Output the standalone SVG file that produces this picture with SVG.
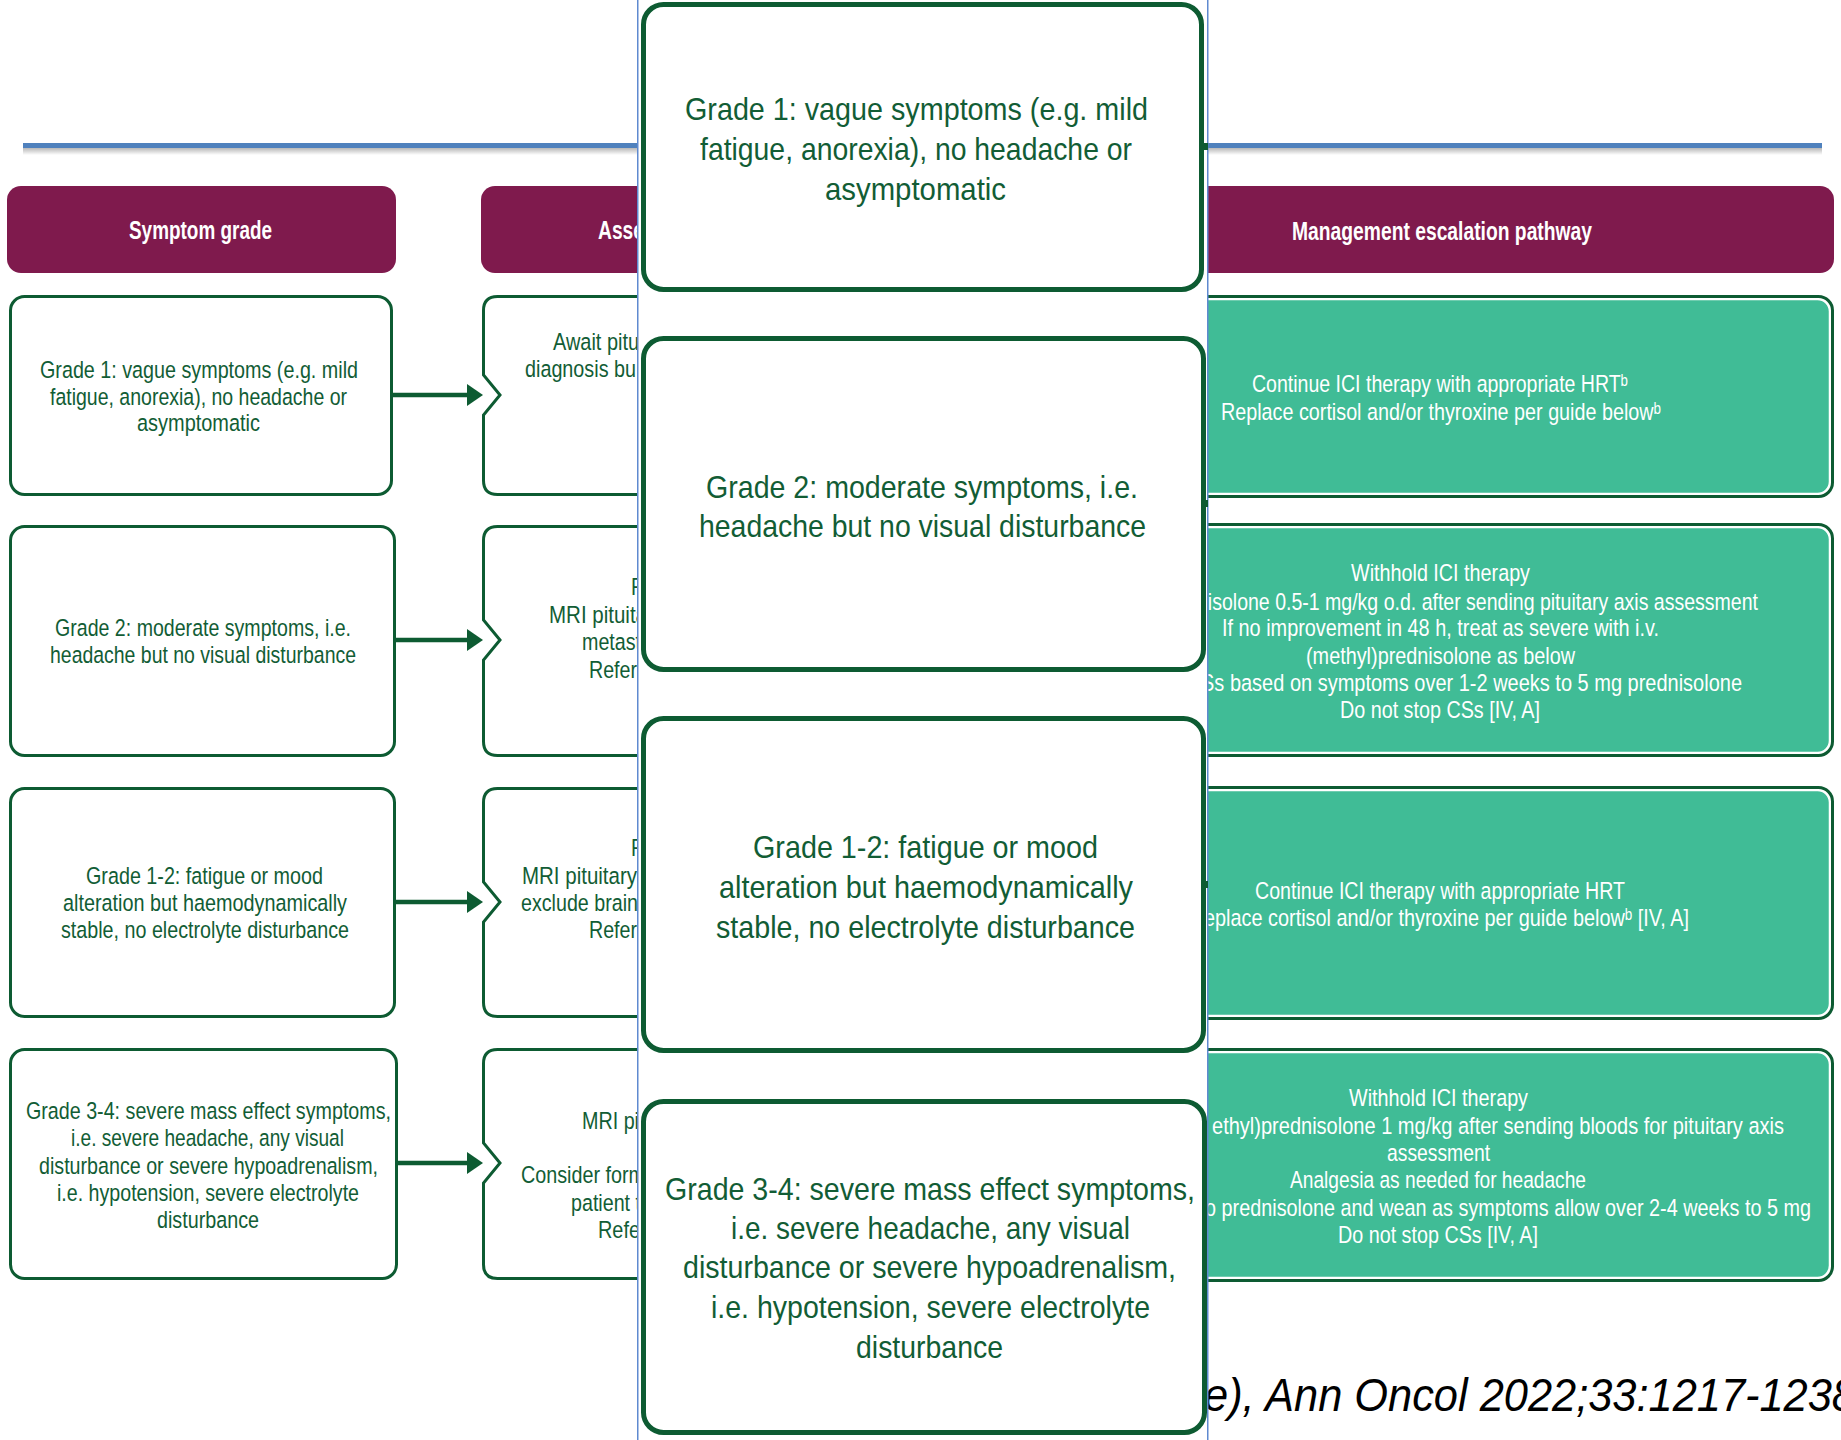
<svg xmlns="http://www.w3.org/2000/svg" width="1841" height="1440" viewBox="0 0 1841 1440">
  <defs>
    <linearGradient id="shade" x1="0" y1="0" x2="0" y2="1">
      <stop offset="0" stop-color="#000" stop-opacity="0.28"/>
      <stop offset="1" stop-color="#000" stop-opacity="0"/>
    </linearGradient>
    <marker id="ah" markerUnits="userSpaceOnUse" markerWidth="16" markerHeight="24" refX="5" refY="12" orient="auto">
      <path d="M0,1 L16,12 L0,23 Z" fill="#0d5b32"/>
    </marker>
    <style>
      .hdr { fill: #7f1a4d; }
      .htxt { font-family: "Liberation Sans", Arial, sans-serif; font-weight: bold; font-size: 26px; fill: #ffffff; }
      .box { fill: #ffffff; stroke: #0d5b32; stroke-width: 3; }
      .gout { fill: #ffffff; stroke: #0d5b32; stroke-width: 3; }
      .gin { fill: #40bc96; stroke: #ffffff; stroke-width: 1.5; }
      .t { font-family: "Liberation Sans", Arial, sans-serif; font-size: 24.5px; fill: #125d35; }
      .tw { font-family: "Liberation Sans", "DejaVu Sans", Arial, sans-serif; font-size: 24.5px; fill: #ffffff; }
      .pbox { fill: #ffffff; stroke: #0d5b32; stroke-width: 5; }
      .pt { font-family: "Liberation Sans", Arial, sans-serif; font-size: 31.5px; fill: #125d35; }
      .conn { fill: none; stroke: #0d5b32; stroke-width: 4.5; }
      .cite { font-family: "Liberation Sans", Arial, sans-serif; font-style: italic; font-size: 46px; fill: #000000; }
    </style>
  </defs>

  <rect width="1841" height="1440" fill="#ffffff"/>

  <!-- title rule -->
  <rect x="23" y="148" width="1799" height="7" fill="url(#shade)"/>
  <rect x="23" y="143" width="1799" height="5" fill="#4f81bd"/>

  <!-- column headers -->
  <g id="hdr-symptom">
    <rect class="hdr" x="7" y="186" width="389" height="87" rx="14"/>
    <text class="htxt" x="129" y="239" textLength="143" lengthAdjust="spacingAndGlyphs">Symptom grade</text>
  </g>
  <g id="hdr-assess">
    <rect class="hdr" x="481" y="186" width="489" height="87" rx="14"/>
    <text class="htxt" x="598" y="239" textLength="46" lengthAdjust="spacingAndGlyphs">Asse</text>
  </g>
  <g id="hdr-management">
    <rect class="hdr" x="1050" y="186" width="784" height="87" rx="14"/>
    <text class="htxt" x="1292" y="240" textLength="300" lengthAdjust="spacingAndGlyphs">Management escalation pathway</text>
  </g>

  <!-- symptom grade boxes -->
  <g id="grade1">
    <rect class="box" x="10.5" y="296.5" width="381" height="198" rx="14"/>
    <text class="t" x="40" y="378" textLength="318" lengthAdjust="spacingAndGlyphs">Grade 1: vague symptoms (e.g. mild</text>
    <text class="t" x="50" y="405" textLength="297" lengthAdjust="spacingAndGlyphs">fatigue, anorexia), no headache or</text>
    <text class="t" x="137" y="431" textLength="123" lengthAdjust="spacingAndGlyphs">asymptomatic</text>
  </g>
  <g id="grade2">
    <rect class="box" x="10.5" y="526.5" width="384" height="229" rx="14"/>
    <text class="t" x="55" y="636" textLength="296" lengthAdjust="spacingAndGlyphs">Grade 2: moderate symptoms, i.e.</text>
    <text class="t" x="50" y="663" textLength="306" lengthAdjust="spacingAndGlyphs">headache but no visual disturbance</text>
  </g>
  <g id="grade12">
    <rect class="box" x="10.5" y="788.5" width="384" height="228" rx="14"/>
    <text class="t" x="86" y="884" textLength="237" lengthAdjust="spacingAndGlyphs">Grade 1-2: fatigue or mood</text>
    <text class="t" x="63" y="911" textLength="284" lengthAdjust="spacingAndGlyphs">alteration but haemodynamically</text>
    <text class="t" x="61" y="938" textLength="288" lengthAdjust="spacingAndGlyphs">stable, no electrolyte disturbance</text>
  </g>
  <g id="grade34">
    <rect class="box" x="10.5" y="1049.5" width="386" height="229" rx="14"/>
    <text class="t" x="26" y="1119" textLength="365" lengthAdjust="spacingAndGlyphs">Grade 3-4: severe mass effect symptoms,</text>
    <text class="t" x="71" y="1146" textLength="273" lengthAdjust="spacingAndGlyphs">i.e. severe headache, any visual</text>
    <text class="t" x="39" y="1174" textLength="339" lengthAdjust="spacingAndGlyphs">disturbance or severe hypoadrenalism,</text>
    <text class="t" x="57" y="1201" textLength="302" lengthAdjust="spacingAndGlyphs">i.e. hypotension, severe electrolyte</text>
    <text class="t" x="157" y="1228" textLength="102" lengthAdjust="spacingAndGlyphs">disturbance</text>
  </g>

  <!-- assessment boxes (notched left edge) -->
  <g id="assess1">
    <path class="box" d="M760 296.5 H497.5 Q483.5 296.5 483.5 310.5 V375 L500 395 L483.5 415 V480.5 Q483.5 494.5 497.5 494.5 H760 Z"/>
    <text class="t" x="553" y="350" textLength="86" lengthAdjust="spacingAndGlyphs">Await pitu</text>
    <text class="t" x="525" y="377" textLength="111" lengthAdjust="spacingAndGlyphs">diagnosis bu</text>
  </g>
  <g id="assess2">
    <path class="box" d="M760 526.5 H497.5 Q483.5 526.5 483.5 540.5 V620 L500 640 L483.5 660 V741.5 Q483.5 755.5 497.5 755.5 H760 Z"/>
    <text class="t" x="631" y="595" textLength="12" lengthAdjust="spacingAndGlyphs">F</text>
    <text class="t" x="549" y="623" textLength="98" lengthAdjust="spacingAndGlyphs">MRI pituita</text>
    <text class="t" x="582" y="650" textLength="59" lengthAdjust="spacingAndGlyphs">metast</text>
    <text class="t" x="589" y="678" textLength="48" lengthAdjust="spacingAndGlyphs">Refer</text>
  </g>
  <g id="assess3">
    <path class="box" d="M760 788.5 H497.5 Q483.5 788.5 483.5 802.5 V882 L500 902 L483.5 922 V1002.5 Q483.5 1016.5 497.5 1016.5 H760 Z"/>
    <text class="t" x="631" y="856" textLength="12" lengthAdjust="spacingAndGlyphs">F</text>
    <text class="t" x="522" y="884" textLength="115" lengthAdjust="spacingAndGlyphs">MRI pituitary</text>
    <text class="t" x="521" y="911" textLength="117" lengthAdjust="spacingAndGlyphs">exclude brain</text>
    <text class="t" x="589" y="938" textLength="48" lengthAdjust="spacingAndGlyphs">Refer</text>
  </g>
  <g id="assess4">
    <path class="box" d="M760 1049.5 H497.5 Q483.5 1049.5 483.5 1063.5 V1143 L500 1163 L483.5 1183 V1264.5 Q483.5 1278.5 497.5 1278.5 H760 Z"/>
    <text class="t" x="582" y="1129" textLength="57" lengthAdjust="spacingAndGlyphs">MRI pi</text>
    <text class="t" x="521" y="1183" textLength="124" lengthAdjust="spacingAndGlyphs">Consider form</text>
    <text class="t" x="571" y="1211" textLength="70" lengthAdjust="spacingAndGlyphs">patient t</text>
    <text class="t" x="598" y="1238" textLength="42" lengthAdjust="spacingAndGlyphs">Refe</text>
  </g>

  <!-- management boxes -->
  <g id="manage1">
    <rect class="gout" x="1051.5" y="296.5" width="781" height="200" rx="14"/>
    <rect class="gin" x="1054.5" y="299.5" width="775" height="194" rx="12"/>
    <text class="tw" x="1252" y="392" textLength="376" lengthAdjust="spacingAndGlyphs">Continue ICI therapy with appropriate HRTᵇ</text>
    <text class="tw" x="1221" y="420" textLength="440" lengthAdjust="spacingAndGlyphs">Replace cortisol and/or thyroxine per guide belowᵇ</text>
  </g>
  <g id="manage2">
    <rect class="gout" x="1051.5" y="524.5" width="781" height="231" rx="14"/>
    <rect class="gin" x="1054.5" y="527.5" width="775" height="225" rx="12"/>
    <text class="tw" x="1351" y="581" textLength="179" lengthAdjust="spacingAndGlyphs">Withhold ICI therapy</text>
    <text class="tw" x="1197" y="610" textLength="561" lengthAdjust="spacingAndGlyphs">nisolone 0.5-1 mg/kg o.d. after sending pituitary axis assessment</text>
    <text class="tw" x="1222" y="636" textLength="437" lengthAdjust="spacingAndGlyphs">If no improvement in 48 h, treat as severe with i.v.</text>
    <text class="tw" x="1306" y="664" textLength="269" lengthAdjust="spacingAndGlyphs">(methyl)prednisolone as below</text>
    <text class="tw" x="1201" y="691" textLength="541" lengthAdjust="spacingAndGlyphs">Ss based on symptoms over 1-2 weeks to 5 mg prednisolone</text>
    <text class="tw" x="1340" y="718" textLength="200" lengthAdjust="spacingAndGlyphs">Do not stop CSs [IV, A]</text>
  </g>
  <g id="manage3">
    <rect class="gout" x="1051.5" y="787.5" width="781" height="231" rx="14"/>
    <rect class="gin" x="1054.5" y="790.5" width="775" height="225" rx="12"/>
    <text class="tw" x="1255" y="899" textLength="370" lengthAdjust="spacingAndGlyphs">Continue ICI therapy with appropriate HRT</text>
    <text class="tw" x="1204" y="926" textLength="485" lengthAdjust="spacingAndGlyphs">eplace cortisol and/or thyroxine per guide belowᵇ [IV, A]</text>
  </g>
  <g id="manage4">
    <rect class="gout" x="1051.5" y="1049.5" width="781" height="231" rx="14"/>
    <rect class="gin" x="1054.5" y="1052.5" width="775" height="225" rx="12"/>
    <text class="tw" x="1349" y="1106" textLength="179" lengthAdjust="spacingAndGlyphs">Withhold ICI therapy</text>
    <text class="tw" x="1212" y="1134" textLength="572" lengthAdjust="spacingAndGlyphs">ethyl)prednisolone 1 mg/kg after sending bloods for pituitary axis</text>
    <text class="tw" x="1387" y="1161" textLength="103" lengthAdjust="spacingAndGlyphs">assessment</text>
    <text class="tw" x="1290" y="1188" textLength="296" lengthAdjust="spacingAndGlyphs">Analgesia as needed for headache</text>
    <text class="tw" x="1205" y="1216" textLength="606" lengthAdjust="spacingAndGlyphs">o prednisolone and wean as symptoms allow over 2-4 weeks to 5 mg</text>
    <text class="tw" x="1338" y="1243" textLength="200" lengthAdjust="spacingAndGlyphs">Do not stop CSs [IV, A]</text>
  </g>

  <!-- connectors: symptom grade to assessment -->
  <g id="connectors">
    <path class="conn" d="M393 395 H472" marker-end="url(#ah)"/>
    <path class="conn" d="M396 640 H472" marker-end="url(#ah)"/>
    <path class="conn" d="M396 902 H472" marker-end="url(#ah)"/>
    <path class="conn" d="M398 1163 H472" marker-end="url(#ah)"/>
  </g>

  <!-- citation line -->
  <text class="cite" x="1204" y="1411" textLength="652" lengthAdjust="spacingAndGlyphs">e), Ann Oncol 2022;33:1217-1238</text>

  <!-- enlarged symptom grade panel -->
  <g id="panel">
    <rect x="637.75" y="-2" width="570" height="1444" fill="#ffffff" stroke="#5f8ad0" stroke-width="1.5"/>
    <rect x="1201" y="143" width="7" height="7" fill="#0d5b32"/>
    <rect x="1203" y="500" width="5" height="7" fill="#0d5b32"/>
    <rect x="1203" y="881" width="5" height="7" fill="#0d5b32"/>
  </g>
  <g id="panel-grade1">
    <rect class="pbox" x="643.5" y="4.5" width="558" height="285" rx="20"/>
    <text class="pt" x="685" y="120" textLength="463" lengthAdjust="spacingAndGlyphs">Grade 1: vague symptoms (e.g. mild</text>
    <text class="pt" x="700" y="160" textLength="432" lengthAdjust="spacingAndGlyphs">fatigue, anorexia), no headache or</text>
    <text class="pt" x="825" y="200" textLength="181" lengthAdjust="spacingAndGlyphs">asymptomatic</text>
  </g>
  <g id="panel-grade2">
    <rect class="pbox" x="643.5" y="338.5" width="560" height="331" rx="20"/>
    <text class="pt" x="706" y="498" textLength="432" lengthAdjust="spacingAndGlyphs">Grade 2: moderate symptoms, i.e.</text>
    <text class="pt" x="699" y="537" textLength="447" lengthAdjust="spacingAndGlyphs">headache but no visual disturbance</text>
  </g>
  <g id="panel-grade12">
    <rect class="pbox" x="643.5" y="718.5" width="560" height="332" rx="20"/>
    <text class="pt" x="753" y="858" textLength="345" lengthAdjust="spacingAndGlyphs">Grade 1-2: fatigue or mood</text>
    <text class="pt" x="719" y="898" textLength="414" lengthAdjust="spacingAndGlyphs">alteration but haemodynamically</text>
    <text class="pt" x="716" y="938" textLength="419" lengthAdjust="spacingAndGlyphs">stable, no electrolyte disturbance</text>
  </g>
  <g id="panel-grade34">
    <rect class="pbox" x="643.5" y="1101.5" width="561" height="331" rx="20"/>
    <text class="pt" x="665" y="1200" textLength="530" lengthAdjust="spacingAndGlyphs">Grade 3-4: severe mass effect symptoms,</text>
    <text class="pt" x="731" y="1239" textLength="399" lengthAdjust="spacingAndGlyphs">i.e. severe headache, any visual</text>
    <text class="pt" x="683" y="1278" textLength="493" lengthAdjust="spacingAndGlyphs">disturbance or severe hypoadrenalism,</text>
    <text class="pt" x="711" y="1318" textLength="439" lengthAdjust="spacingAndGlyphs">i.e. hypotension, severe electrolyte</text>
    <text class="pt" x="856" y="1358" textLength="147" lengthAdjust="spacingAndGlyphs">disturbance</text>
  </g>
</svg>
